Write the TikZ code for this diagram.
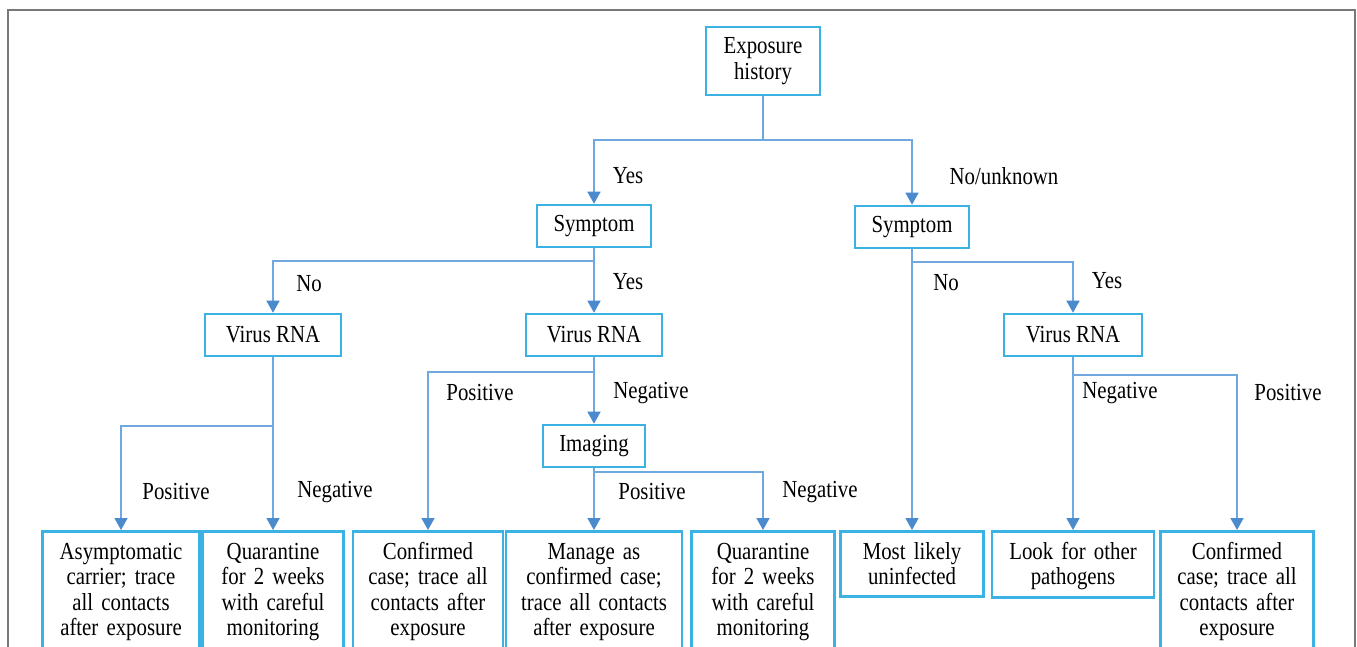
\documentclass[tikz,border=0pt]{standalone}
\usepackage{fontspec}
\setmainfont{Liberation Serif}[FakeStretch=0.85]
\usetikzlibrary{arrows.meta}
\definecolor{boxblue}{RGB}{60,178,228}
\definecolor{lineblue}{RGB}{110,168,222}
\definecolor{arrowblue}{RGB}{75,138,205}
\definecolor{framegray}{RGB}{120,120,120}
\tikzset{
  txt/.style={font=\fontsize{24.5}{25.5}\selectfont},
  box/.style={txt, draw=boxblue, line width=2.6pt, fill=white, inner sep=0pt, align=center},
  leafbox/.style={box, anchor=north, inner ysep=11pt, inner xsep=3pt, text height=17pt},
  conn/.style={draw=lineblue, line width=1.5pt},
  arr/.style={conn, -{Triangle[width=13pt,length=12pt,color=arrowblue,fill=arrowblue]}},
  lbl/.style={txt, inner sep=0pt}
}
\begin{document}
\begin{tikzpicture}[x=1pt,y=-1pt]
\clip (0,0) rectangle (1357,647);
\fill[white] (0,0) rectangle (1357,647);
\draw[framegray, line width=2.5pt] (8,660) -- (8,10) -- (1355,10) -- (1355,660);

% decision nodes
\node[box, minimum width=114, minimum height=68] (exp) at (763,61) {Exposure\\history};
\node[box, minimum width=114, minimum height=42] (symL) at (594,226) {Symptom};
\node[box, minimum width=114, minimum height=42] (symR) at (912,227) {Symptom};
\node[box, minimum width=136, minimum height=42] (virL) at (273,335) {Virus RNA};
\node[box, minimum width=136, minimum height=42] (virM) at (594,335) {Virus RNA};
\node[box, minimum width=138, minimum height=42] (virR) at (1073,335) {Virus RNA};
\node[box, minimum width=102, minimum height=42] (img) at (594,446) {Imaging};

% leaves
\node[leafbox, minimum width=157, text width=150, text depth=100pt] (l1) at (121,530) {Asymptomatic\\carrier; trace\\all contacts\\after exposure};
\node[leafbox, minimum width=141, text width=134, text depth=100pt] (l2) at (273,530) {Quarantine\\for 2 weeks\\with careful\\monitoring};
\node[leafbox, minimum width=150, text width=143, text depth=100pt] (l3) at (428,530) {Confirmed\\case; trace all\\contacts after\\exposure};
\node[leafbox, minimum width=176, text width=169, text depth=100pt] (l4) at (594,530) {Manage as\\confirmed case;\\trace all contacts\\after exposure};
\node[leafbox, minimum width=143, text width=136, text depth=100pt] (l5) at (763,530) {Quarantine\\for 2 weeks\\with careful\\monitoring};
\node[leafbox, minimum width=143, text width=136, text depth=26pt] (l6) at (912,530) {Most likely\\uninfected};
\node[leafbox, minimum width=162, text width=155, text depth=27pt] (l7) at (1073,530) {Look for other\\pathogens};
\node[leafbox, minimum width=153, text width=146, text depth=100pt] (l8) at (1237,530) {Confirmed\\case; trace all\\contacts after\\exposure};

% junctions
\coordinate (j1) at (763,140);
\coordinate (j2) at (594,261);
\coordinate (j3) at (912,262);
\coordinate (j4) at (273,426);
\coordinate (j5) at (594,372);
\coordinate (j6) at (594,472);
\coordinate (j7) at (1073,375);

% connectors
\draw[conn] (exp.south) -- (j1);
\draw[arr] (j1) -| (symL.north);
\draw[arr] (j1) -| (symR.north);

\draw[conn] (symL.south) -- (j2);
\draw[arr] (j2) -| (virL.north);
\draw[arr] (j2) -- (virM.north);

\draw[conn] (symR.south) -- (j3);
\draw[arr] (j3) -- (l6.north);
\draw[arr] (j3) -| (virR.north);

\draw[conn] (virL.south) -- (j4);
\draw[arr] (j4) -| (l1.north);
\draw[arr] (j4) -- (l2.north);

\draw[conn] (virM.south) -- (j5);
\draw[arr] (j5) -| (l3.north);
\draw[arr] (j5) -- (img.north);

\draw[conn] (img.south) -- (j6);
\draw[arr] (j6) -- (l4.north);
\draw[arr] (j6) -| (l5.north);

\draw[conn] (virR.south) -- (j7);
\draw[arr] (j7) -- (l7.north);
\draw[arr] (j7) -| (l8.north);

% labels
\node[lbl] (t1) at (628,176) {Yes};
\node[lbl] (t2) at (1004,176) {No/unknown};
\node[lbl] (t3) at (309,284) {No};
\node[lbl] (t4) at (628,282) {Yes};
\node[lbl] (t5) at (946,283) {No};
\node[lbl] (t6) at (1107,281) {Yes};
\node[lbl] (t7) at (480,393) {Positive};
\node[lbl] (t8) at (651,393) {Negative};
\node[lbl] (t9) at (1120,393) {Negative};
\node[lbl] (t10) at (1288,393) {Positive};
\node[lbl] (t11) at (176,492) {Positive};
\node[lbl] (t12) at (335,492) {Negative};
\node[lbl] (t13) at (652,492) {Positive};
\node[lbl] (t14) at (820,492) {Negative};
\end{tikzpicture}
\end{document}
